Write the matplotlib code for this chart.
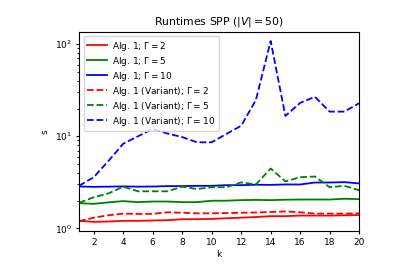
import numpy as np
import matplotlib
matplotlib.use('Agg')
import matplotlib.pyplot as plt

k = np.arange(1, 21)

alg_g2 = [1.21, 1.18, 1.19, 1.21, 1.21, 1.22, 1.23, 1.26, 1.26, 1.27,
          1.29, 1.31, 1.33, 1.36, 1.36, 1.38, 1.38, 1.38, 1.39, 1.40]
alg_g5 = [1.88, 1.85, 1.92, 1.98, 1.93, 1.96, 1.96, 1.93, 1.93, 2.0,
          2.0, 2.03, 2.04, 2.03, 2.05, 2.06, 2.06, 2.06, 2.1, 2.08]
alg_g10 = [2.85, 2.83, 2.84, 2.86, 2.84, 2.85, 2.88, 2.88, 2.9, 2.9,
           2.95, 2.95, 2.98, 2.97, 3.0, 3.0, 3.15, 3.15, 3.18, 3.08]
var_g2 = [1.2, 1.31, 1.39, 1.45, 1.44, 1.44, 1.5, 1.48, 1.46, 1.46,
          1.47, 1.48, 1.49, 1.51, 1.53, 1.5, 1.45, 1.45, 1.45, 1.46]
var_g5 = [1.9, 2.18, 2.4, 2.84, 2.53, 2.53, 2.53, 2.84, 2.68, 2.8,
          2.8, 3.16, 3.0, 4.47, 3.24, 3.6, 3.66, 2.8, 2.9, 2.6]
var_g10 = [2.9, 3.6, 5.4, 8.3, 10.0, 12.0, 10.7, 9.8, 8.6, 8.6,
           10.6, 13.0, 24.7, 108.0, 16.6, 23.0, 26.8, 18.5, 18.5, 22.8]

fig = plt.figure(figsize=(3.99, 2.66), dpi=100)
ax = fig.add_axes([0.198, 0.132, 0.702, 0.748])

lw = 1.3
ax.plot(k, alg_g2, color='red', lw=lw, label=r'Alg. 1; $\Gamma = 2$')
ax.plot(k, alg_g5, color='green', lw=lw, label=r'Alg. 1; $\Gamma = 5$')
ax.plot(k, alg_g10, color='blue', lw=lw, label=r'Alg. 1; $\Gamma = 10$')
ax.plot(k, var_g2, color='red', lw=lw, ls='--', label=r'Alg. 1 (Variant); $\Gamma = 2$')
ax.plot(k, var_g5, color='green', lw=lw, ls='--', label=r'Alg. 1 (Variant); $\Gamma = 5$')
ax.plot(k, var_g10, color='blue', lw=lw, ls='--', label=r'Alg. 1 (Variant); $\Gamma = 10$')

ax.set_yscale('log')
ax.set_xlim(1, 20)
ax.set_xticks(range(2, 21, 2))
ax.tick_params(labelsize=6.5, length=2.5, pad=2.5)
ax.tick_params(which='minor', length=1.5)
ax.set_xlabel('k', fontsize=6.5, labelpad=2)
ax.set_ylabel('s', fontsize=6.5)
ax.set_title(r'Runtimes SPP ($|V| = 50$)', fontsize=7.8, pad=5)
ax.legend(loc='upper left', fontsize=6.5, handlelength=2.2, labelspacing=0.22,
          handletextpad=0.66, borderpad=0.35, borderaxespad=0.5)

fig.savefig('out.png', dpi=100)
